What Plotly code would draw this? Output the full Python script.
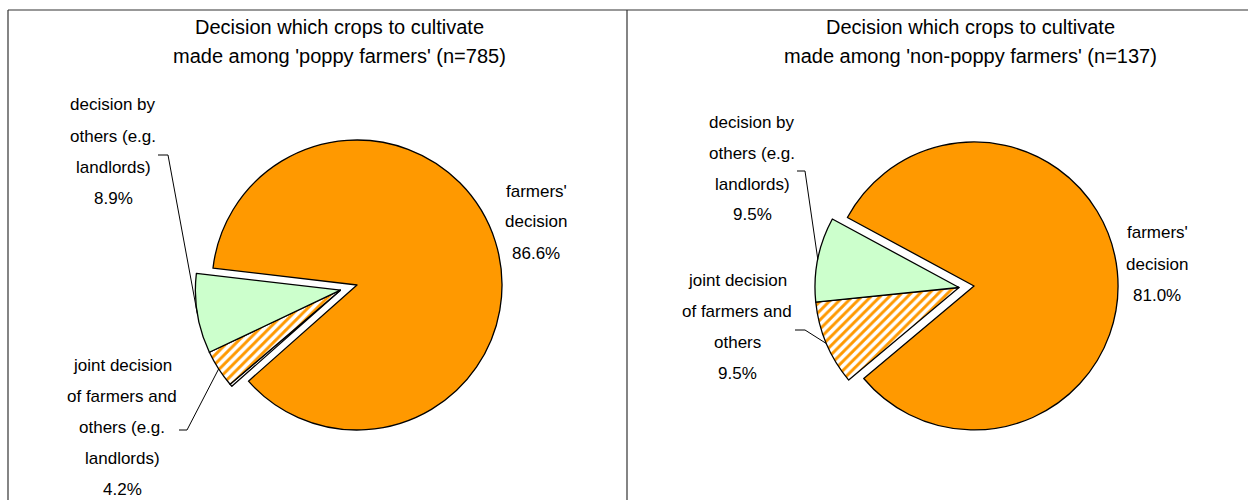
import math
import plotly.graph_objects as go

W, H = 1248, 500

ORANGE = "#FF9900"
GREEN = "#CCFFCC"
WHITE = "#FFFFFF"
FONT = "Liberation Sans, Arial, sans-serif"

# Panel 1: poppy farmers (n=785)
poppy_categories = ["farmers' decision", "other", "joint decision of farmers and others (e.g. landlords)",
                    "decision by others (e.g. landlords)"]
poppy_values = [86.6, 0.3, 4.2, 8.9]
poppy_label_lines = [["farmers'", "decision"], [], ["joint decision", "of farmers and", "others (e.g.", "landlords)"],
                     ["decision by", "others (e.g.", "landlords)"]]

# Panel 2: non-poppy farmers (n=137)
nonpoppy_categories = ["farmers' decision", "joint decision of farmers and others",
                       "decision by others (e.g. landlords)"]
nonpoppy_values = [81.0, 9.5, 9.5]
nonpoppy_label_lines = [["farmers'", "decision"], ["joint decision", "of farmers and", "others"],
                        ["decision by", "others (e.g.", "landlords)"]]

title_lines = [
    ["Decision which crops to cultivate", "made among 'poppy farmers' (n=785)"],
    ["Decision which crops to cultivate", "made among 'non-poppy farmers' (n=137)"],
]


def px(x):
    return x / W


def py(y):
    return 1 - y / H


panels = [
    dict(values=poppy_values, cats=poppy_categories, lines=poppy_label_lines,
         colors=[ORANGE, WHITE, GREEN, GREEN], hatch=["", "", "/", ""],
         cx=340.4, cy=290.2, r=145, pull=0.12, rotation=276.7,
         title_x=340,
         label_pos={0: (536, 191), 2: (122, 365), 3: (113, 105)},
         leader={2: ((179, 430), (187, 430)), 3: ((158, 155), (168, 155))}),
    dict(values=nonpoppy_values, cats=nonpoppy_categories, lines=nonpoppy_label_lines,
         colors=[ORANGE, GREEN, GREEN], hatch=["", "/", ""],
         cx=959.0, cy=287.5, r=144, pull=0.105, rotation=298.4,
         title_x=970,
         label_pos={0: (1157, 233), 1: (737, 280), 2: (752, 122)},
         leader={1: ((795, 330), (805, 330)), 2: ((797, 171), (805, 171))}),
]

fig = go.Figure()
annotations = []
shapes = []

for p in panels:
    half = p["r"] * (1 + p["pull"])
    pulls = [p["pull"]] + [0] * (len(p["values"]) - 1)
    fig.add_trace(go.Pie(
        values=p["values"], labels=p["cats"], sort=False, direction="clockwise",
        rotation=p["rotation"], pull=pulls, textinfo="none", hoverinfo="label+percent",
        showlegend=False,
        marker=dict(colors=p["colors"], line=dict(color="black", width=1.3),
                    pattern=dict(shape=p["hatch"], fgcolor=ORANGE, size=6.5, solidity=0.45,
                                 fillmode="replace")),
        domain=dict(x=[px(p["cx"] - half), px(p["cx"] + half)],
                    y=[py(p["cy"] + half), py(p["cy"] - half)]),
    ))

    total = sum(p["values"])
    cum = 0
    for i, v in enumerate(p["values"]):
        mid = math.radians(p["rotation"] + (cum + v / 2) / total * 360)
        cum += v
        if i not in p["label_pos"]:
            continue
        lx, ly = p["label_pos"][i]
        text_lines = p["lines"][i] + [f"{v:.1f}%"]
        for k, t in enumerate(text_lines):
            annotations.append(dict(x=px(lx), y=py(ly + 31 * k), xref="paper", yref="paper",
                                    text=t, showarrow=False, xanchor="center", yanchor="middle",
                                    font=dict(family=FONT, size=17, color="black")))
        if i in p["leader"]:
            (x0, y0), (x1, y1) = p["leader"][i]
            ex = p["cx"] + p["r"] * math.sin(mid)
            ey = p["cy"] - p["r"] * math.cos(mid)
            shapes.append(dict(type="path", xref="paper", yref="paper",
                               path=f"M {px(x0)} {py(y0)} L {px(x1)} {py(y1)} L {px(ex)} {py(ey)}",
                               line=dict(color="black", width=1)))

for p, tl in zip(panels, title_lines):
    for k, t in enumerate(tl):
        annotations.append(dict(x=px(p["title_x"]), y=py(27 + 29 * k), xref="paper", yref="paper",
                                text=t, showarrow=False, xanchor="center", yanchor="middle",
                                font=dict(family=FONT, size=20, color="black")))

# panel frames
for x0, y0, x1, y1 in [(8, 10, 1260, 10), (8, 10, 8, 510), (627, 10, 627, 510)]:
    shapes.append(dict(type="line", xref="paper", yref="paper", x0=px(x0), y0=py(y0), x1=px(x1), y1=py(y1),
                       line=dict(color="#333333", width=1.2)))

fig.update_layout(
    width=W, height=H, margin=dict(l=0, r=0, t=0, b=0),
    paper_bgcolor="white", plot_bgcolor="white",
    annotations=annotations, shapes=shapes,
)

fig.write_html("out.html")
